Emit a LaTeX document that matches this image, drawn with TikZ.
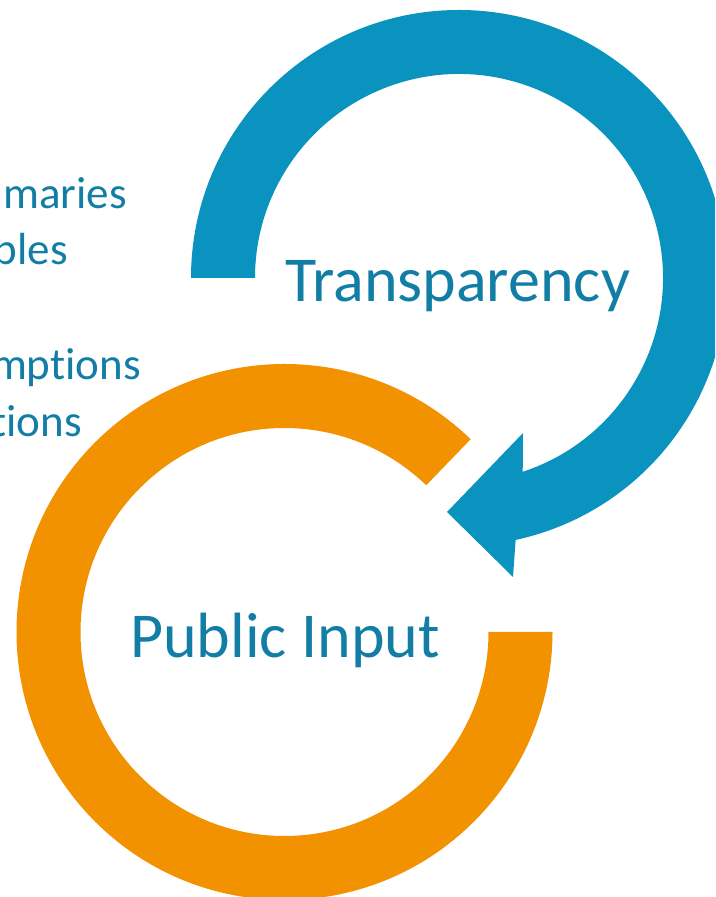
\documentclass[tikz,border=0pt]{standalone}
\usepackage{fontspec}
\setmainfont{Carlito}[Ligatures=NoCommon]
\definecolor{ringblue}{HTML}{0B93BF}
\definecolor{textblue}{HTML}{127EA5}
\definecolor{ringorange}{HTML}{F39200}
\begin{document}
\begin{tikzpicture}[x=1pt,y=1pt,
  bigtext/.style={inner sep=0pt,text=textblue,font=\fontsize{64}{70}\selectfont},
  sidetext/.style={inner sep=0pt,text=textblue,font=\fontsize{45}{52}\selectfont,anchor=base east}]
\useasboundingbox (0,0) rectangle (715,897);
\clip (0,0) rectangle (715,897);
\fill[white] (0,0) rectangle (715,897);
\coordinate (cb) at (459,619);
\coordinate (co) at (284.5,265);
% blue circular arrow
\fill[ringblue] ([shift={(cb)}]180:268) arc[start angle=180,end angle=-77.8,radius=268]
  -- (513,320) -- (447,385) -- (523,464)
  -- ([shift={(cb)}]-71.8:204) arc[start angle=-71.8,end angle=180,radius=204] -- cycle;
% orange ring
\fill[ringorange] ([shift={(co)}]46:268) arc[start angle=46,end angle=360,radius=268]
  -- ([shift={(co)}]0:204) arc[start angle=360,end angle=46,radius=204] -- cycle;
% labels
\node[bigtext,anchor=base west] (transp) at (285,595) {Transparency};
\node[bigtext,anchor=base west] (pubin) at (130,239) {Public Input};
% text at the left edge
\node[sidetext] (t1) at (127,688) {maries};
\node[sidetext] (t2) at (68,632) {ples};
\node[sidetext] (t3) at (141,517) {mptions};
\node[sidetext] (t4) at (82,460) {tions};
\end{tikzpicture}
\end{document}
